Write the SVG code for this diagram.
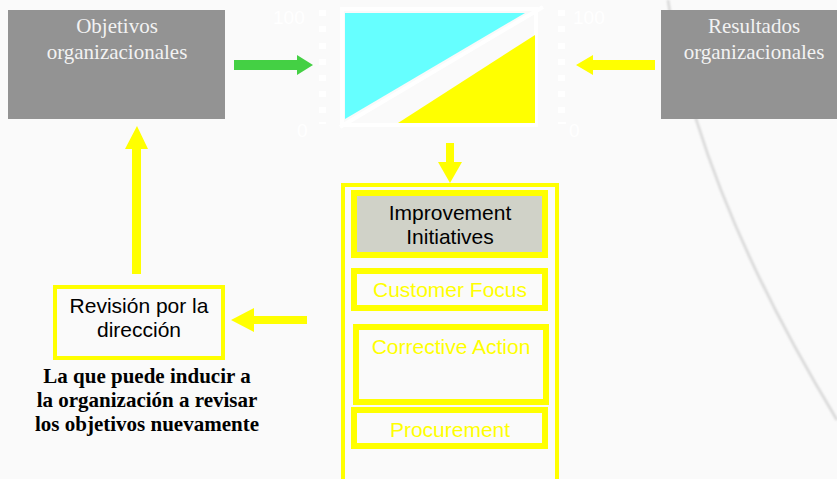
<svg xmlns="http://www.w3.org/2000/svg" width="837" height="479" viewBox="0 0 837 479">
  <defs>
    <style>
      .serif { font-family: "Liberation Serif", "Times New Roman", serif; font-size: 21px; text-anchor: middle; }
      .sans { font-family: "Liberation Sans", Arial, sans-serif; font-size: 21px; text-anchor: middle; }
      .grey-box { fill: #939393; }
      .grey-label { fill: #f2f2f2; }
      .frame { fill: none; stroke: #ffff00; stroke-width: 6; }
      .yellow { fill: #ffff00; }
      .tick { fill: #ffffff; }
      .scale { font-family: "Liberation Sans", Arial, sans-serif; font-size: 19px; fill: #ffffff; }
    </style>
    <filter id="soft" x="-10%" y="-10%" width="120%" height="120%">
      <feGaussianBlur stdDeviation="1.2"/>
    </filter>
  </defs>

  <!-- page background with a faint decorative swoosh -->
  <rect width="837" height="479" fill="#fafafa"/>
  <path d="M 668 0 Q 676 60 697 122 Q 740 260 837 420" fill="none" stroke="#d6d6d6" stroke-width="2.5" filter="url(#soft)"/>

  <!-- objectives -->
  <g id="objetivos">
    <rect class="grey-box" x="8" y="10" width="217" height="109"/>
    <text class="serif grey-label" x="117" y="33">Objetivos</text>
    <text class="serif grey-label" x="117" y="59">organizacionales</text>
  </g>

  <!-- results -->
  <g id="resultados">
    <rect class="grey-box" x="661" y="10" width="186" height="109"/>
    <text class="serif grey-label" x="754" y="33">Resultados</text>
    <text class="serif grey-label" x="754" y="59">organizacionales</text>
  </g>

  <!-- performance chart -->
  <g id="grafico">
    <g class="tick">
      <rect x="319" y="10" width="7" height="6"/>
      <rect x="319" y="26" width="7" height="6"/>
      <rect x="319" y="43" width="7" height="6"/>
      <rect x="319" y="59" width="7" height="6"/>
      <rect x="319" y="75" width="7" height="6"/>
      <rect x="319" y="91" width="7" height="6"/>
      <rect x="319" y="107" width="7" height="6"/>
      <rect x="319" y="122" width="7" height="2"/>
      <rect x="558" y="10" width="7" height="6"/>
      <rect x="558" y="26" width="7" height="6"/>
      <rect x="558" y="43" width="7" height="6"/>
      <rect x="558" y="59" width="7" height="6"/>
      <rect x="558" y="75" width="7" height="6"/>
      <rect x="558" y="91" width="7" height="6"/>
      <rect x="558" y="107" width="7" height="6"/>
      <rect x="558" y="122" width="8" height="2"/>
    </g>
    <text class="scale" x="273" y="24">100</text>
    <text class="scale" x="297" y="137">0</text>
    <text class="scale" x="573" y="24">100</text>
    <text class="scale" x="569" y="137">0</text>
    <rect x="342" y="9" width="194" height="116" fill="none" stroke="#ffffff" stroke-width="4"/>
    <polygon points="345,13 525,13 345,119" fill="#66ffff"/>
    <polygon points="398,123 535,35 535,123" fill="#ffff00"/>
    <line x1="340" y1="127" x2="543" y2="7" stroke="#ffffff" stroke-width="4"/>
  </g>

  <!-- improvement column -->
  <g id="iniciativas">
    <polyline points="343,479 343,185 557,185 557,479" fill="none" stroke="#ffff00" stroke-width="4"/>
    <rect x="354" y="193" width="191" height="62" fill="#d0d2c8" stroke="#ffff00" stroke-width="6"/>
    <text class="sans" x="450" y="220" fill="#000000">Improvement</text>
    <text class="sans" x="450" y="244" fill="#000000">Initiatives</text>
  </g>
  <g id="customer-focus">
    <rect class="frame" x="354" y="271" width="191" height="37"/>
    <text class="sans" x="450" y="297" fill="#ffff00">Customer Focus</text>
  </g>
  <g id="corrective-action">
    <rect class="frame" x="356" y="327" width="190" height="75"/>
    <text class="sans" x="451" y="354" fill="#ffff00">Corrective Action</text>
  </g>
  <g id="procurement">
    <rect class="frame" x="354" y="410" width="191" height="36"/>
    <text class="sans" x="450" y="437" fill="#ffff00">Procurement</text>
  </g>

  <!-- management review -->
  <g id="revision">
    <rect x="55" y="287" width="168" height="71" fill="#fafafa" stroke="#ffff00" stroke-width="4"/>
    <text class="sans" x="139" y="313" fill="#000000">Revisión por la</text>
    <text class="sans" x="139" y="337" fill="#000000">dirección</text>
  </g>
  <g id="nota">
    <text class="serif" x="147" y="383" font-weight="bold" fill="#000000">La que puede inducir a</text>
    <text class="serif" x="147" y="407" font-weight="bold" fill="#000000">la organización a revisar</text>
    <text class="serif" x="147" y="431" font-weight="bold" fill="#000000">los objetivos nuevamente</text>
  </g>

  <!-- connectors -->
  <g id="conectores">
    <polygon points="234,60 297,60 297,55 313,65 297,75 297,70 234,70" fill="#44d044"/>
    <polygon points="655,60 593,60 593,55 576,65 593,75 593,70 655,70" class="yellow"/>
    <polygon points="446,143 454,143 454,162 462,162 450,183 438,162 446,162" class="yellow"/>
    <polygon points="307,316 254,316 254,308 231,320 254,332 254,324 307,324" class="yellow"/>
    <polygon points="132,274 132,149 125,149 137,126 148,149 141,149 141,274" class="yellow"/>
  </g>
</svg>
